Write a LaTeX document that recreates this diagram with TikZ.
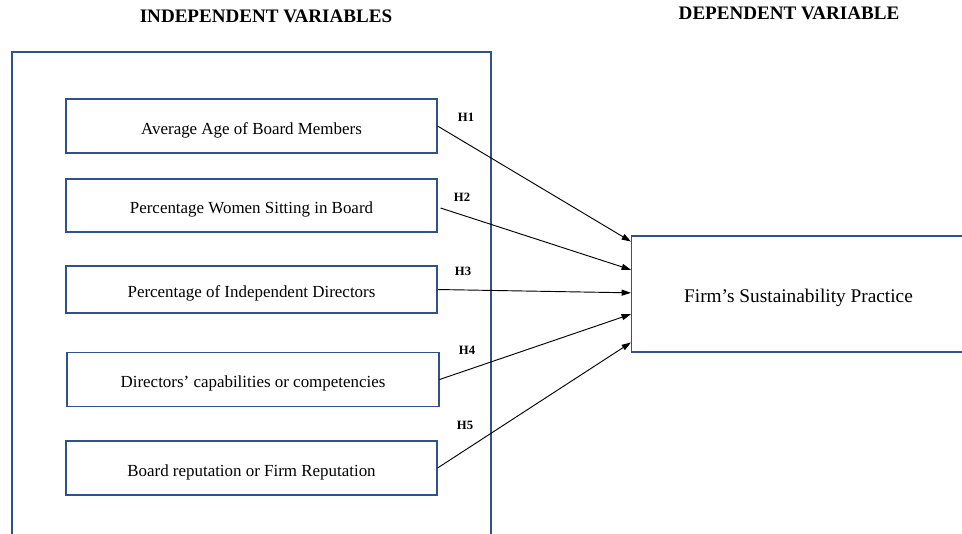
\documentclass[tikz,border=0pt]{standalone}
\usepackage{fontspec}
\setmainfont{Liberation Serif}
\usetikzlibrary{arrows.meta,calc}
\definecolor{boxblue}{RGB}{47,82,143}
\begin{document}
\begin{tikzpicture}[x=0.75pt,y=-0.75pt,
  ivbox/.style={draw=boxblue,line width=0.8pt,minimum width=278.25pt,minimum height=40.5pt,inner sep=0pt,text height=12.5pt,text depth=0pt,font=\fontsize{12.7}{15}\selectfont},
  title/.style={font=\fontsize{14.3}{17}\selectfont\bfseries},
  hlab/.style={font=\fontsize{9.5}{11}\selectfont\bfseries},
  arr/.style={draw=black,line width=0.7pt,-{Triangle[length=7pt,width=4.5pt]}}]
\useasboundingbox (0,0) rectangle (962,533);
\fill[white] (0,0) rectangle (962,533);
\node[title] (tin) at (266,16) {INDEPENDENT VARIABLES};
\node[title] (tdep) at (789,13) {DEPENDENT VARIABLE};
\draw[boxblue,line width=0.8pt] (12,534) -- (12,52) -- (491,52) -- (491,534);
\node[ivbox] (b1) at (251.5,126) {Average Age of Board Members};
\node[ivbox,minimum height=39.75pt] (b2) at (251.5,205.5) {Percentage Women Sitting in Board};
\node[ivbox,minimum height=35.25pt] (b3) at (251.5,289.5) {Percentage of Independent Directors};
\node[ivbox,minimum width=279pt] (b4) at (253,379.5) {Directors’ capabilities or competencies};
\node[ivbox] (b5) at (251.5,468) {Board reputation or Firm Reputation};
\node[draw=boxblue,line width=0.8pt,minimum width=250.5pt,minimum height=87pt,inner sep=0pt,text height=13pt,text depth=0pt,font=\fontsize{14.5}{17}\selectfont] (dep) at (798.5,294) {Firm’s Sustainability Practice};
\draw[arr] (b1.east) -- ($(dep.north west)!0.052!(dep.south west)$);
\draw[arr] ($(b2.east)+(3,2.5)$) -- ($(dep.north west)!0.293!(dep.south west)$);
\draw[arr] (b3.east) -- ($(dep.north west)!0.49!(dep.south west)$);
\draw[arr] (b4.east) -- ($(dep.north west)!0.672!(dep.south west)$);
\draw[arr] (b5.east) -- ($(dep.north west)!0.914!(dep.south west)$);
\node[hlab] (h1) at (466,117) {H1};
\node[hlab] (h2) at (462,197) {H2};
\node[hlab] (h3) at (463,271) {H3};
\node[hlab] (h4) at (467,350) {H4};
\node[hlab] (h5) at (465,425) {H5};
\end{tikzpicture}
\end{document}
